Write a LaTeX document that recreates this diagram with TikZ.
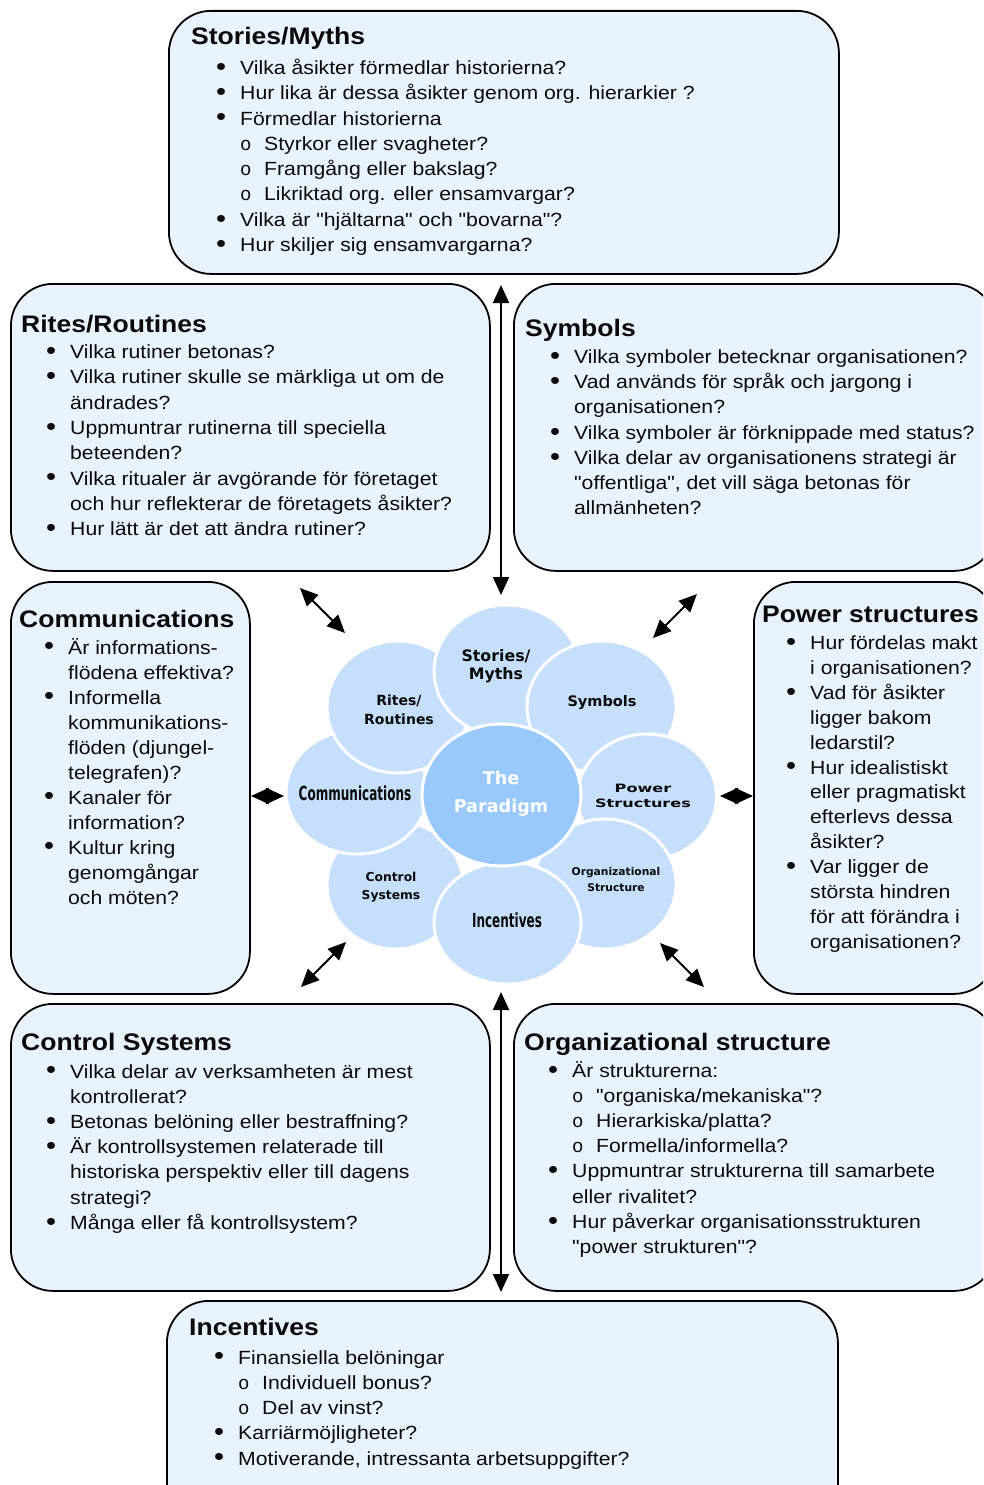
\documentclass[tikz,border=0pt]{standalone}
\usepackage{fontspec}
\usetikzlibrary{arrows.meta,shapes.geometric}

% fonts
\newfontfamily\boxfont{Liberation Sans}[FakeStretch=1.11,Ligatures=TeXOff]
\newfontfamily\ringfont{Liberation Mono}
\newfontfamily\petalfont{DejaVu Sans}
\newfontfamily\petalwide{DejaVu Sans}[FakeStretch=1.4]
\newfontfamily\petalnarrow{DejaVu Sans}[FakeStretch=0.62]

% colours
\definecolor{boxfill}{RGB}{232,243,254}
\definecolor{petalfill}{RGB}{198,224,251}
\definecolor{corefill}{RGB}{153,201,250}
\definecolor{ink}{RGB}{10,10,10}

% list lines: bullet item, continuation line, sub item
\newcommand\bigdot{\raisebox{-0.9pt}{\scalebox{1.35}{\textbullet}}}
\newcommand\smallring{{\ringfont\fontsize{19}{0}\selectfont o}}
\newcommand\bi[1]{\par\makebox[24pt][l]{\bigdot}#1}
\newcommand\bc[1]{\par\hspace*{24pt}#1}
\newcommand\si[1]{\par\hspace*{24pt}\makebox[24pt][l]{\smallring}#1}
\newcommand\itemlist[2]{\parbox[t]{720pt}{\boxfont\fontsize{19.1}{#1}\selectfont
  \lineskiplimit=-100pt\lineskip=0pt #2}}

\tikzset{
  infobox/.style={rectangle, draw=black, line width=1.8pt, fill=boxfill,
    rounded corners=42pt, anchor=north west, inner sep=0pt},
  boxtitle/.style={anchor=base west, inner sep=0pt, text=ink,
    font=\boxfont\bfseries\fontsize{23.9}{28}\selectfont},
  boxlist/.style={anchor=base west, inner sep=0pt, text=ink},
  petal/.style={ellipse, draw=white, line width=3pt, fill=petalfill, inner sep=0pt},
  core/.style={ellipse, draw=white, line width=3pt, fill=corefill, inner sep=0pt},
  petallabel/.style={align=center, inner sep=0pt, text=ink},
  link/.style={line width=2pt, draw=black,
    {Triangle[length=18pt,width=16pt]}-{Triangle[length=18pt,width=16pt]}},
}

\begin{document}
\begin{tikzpicture}[x=1pt,y=-1pt]
\useasboundingbox (0,0) rectangle (983,1485);
\clip (0,0) rectangle (983,1485);
\fill[white] (0,0) rectangle (983,1485);

% ---------- outer boxes ----------
\node[infobox, minimum width=670pt, minimum height=263pt] (storiesBox) at (168,10) {};
\node[infobox, minimum width=479pt, minimum height=287pt] (ritesBox) at (10,283) {};
\node[infobox, minimum width=482pt, minimum height=287pt] (symbolsBox) at (513,283) {};
\node[infobox, minimum width=239pt, minimum height=412pt] (commBox) at (10,581) {};
\node[infobox, minimum width=242pt, minimum height=412pt] (powerBox) at (753,581) {};
\node[infobox, minimum width=479pt, minimum height=287pt] (controlBox) at (10,1003) {};
\node[infobox, minimum width=482pt, minimum height=287pt] (orgBox) at (513,1003) {};
\node[infobox, minimum width=671pt, minimum height=240pt] (incBox) at (166,1300) {};

% ---------- box texts ----------
\node[boxtitle] (storiesTitle) at (191,45) {Stories/Myths};
\node[boxlist] (storiesList) at (216,74.5) {\itemlist{25.3pt}{%
\bi{Vilka åsikter förmedlar historierna?}
\bi{Hur lika är dessa åsikter genom org. hierarkier ?}
\bi{Förmedlar historierna}
\si{Styrkor eller svagheter?}
\si{Framgång eller bakslag?}
\si{Likriktad org. eller ensamvargar?}
\bi{Vilka är "hjältarna" och "bovarna"?}
\bi{Hur skiljer sig ensamvargarna?}}};

\node[boxtitle] (ritesTitle) at (21,332) {Rites/Routines};
\node[boxlist] (ritesList) at (46,358.5) {\itemlist{25.3pt}{%
\bi{Vilka rutiner betonas?}
\bi{Vilka rutiner skulle se märkliga ut om de}
\bc{ändrades?}
\bi{Uppmuntrar rutinerna till speciella}
\bc{beteenden?}
\bi{Vilka ritualer är avgörande för företaget}
\bc{och hur reflekterar de företagets åsikter?}
\bi{Hur lätt är det att ändra rutiner?}}};

\node[boxtitle] (symbolsTitle) at (525,336) {Symbols};
\node[boxlist] (symbolsList) at (550,363.5) {\itemlist{25.2pt}{%
\bi{Vilka symboler betecknar organisationen?}
\bi{Vad används för språk och jargong i}
\bc{organisationen?}
\bi{Vilka symboler är förknippade med status?}
\bi{Vilka delar av organisationens strategi är}
\bc{"offentliga", det vill säga betonas för}
\bc{allmänheten?}}};

\node[boxtitle] (commTitle) at (19,627) {Communications};
\node[boxlist] (commList) at (44,654) {\itemlist{25pt}{%
\bi{Är informations-}
\bc{flödena effektiva?}
\bi{Informella}
\bc{kommunikations-}
\bc{flöden (djungel-}
\bc{telegrafen)?}
\bi{Kanaler för}
\bc{information?}
\bi{Kultur kring}
\bc{genomgångar}
\bc{och möten?}}};

\node[boxtitle] (powerTitle) at (762,622) {Power structures};
\node[boxlist] (powerList) at (786,649.5) {\itemlist{24.9pt}{%
\bi{Hur fördelas makt}
\bc{i organisationen?}
\bi{Vad för åsikter}
\bc{ligger bakom}
\bc{ledarstil?}
\bi{Hur idealistiskt}
\bc{eller pragmatiskt}
\bc{efterlevs dessa}
\bc{åsikter?}
\bi{Var ligger de}
\bc{största hindren}
\bc{för att förändra i}
\bc{organisationen?}}};

\node[boxtitle] (controlTitle) at (21,1050) {Control Systems};
\node[boxlist] (controlList) at (46,1078) {\itemlist{25.2pt}{%
\bi{Vilka delar av verksamheten är mest}
\bc{kontrollerat?}
\bi{Betonas belöning eller bestraffning?}
\bi{Är kontrollsystemen relaterade till}
\bc{historiska perspektiv eller till dagens}
\bc{strategi?}
\bi{Många eller få kontrollsystem?}}};

\node[boxtitle] (orgTitle) at (524,1050) {Organizational structure};
\node[boxlist] (orgList) at (548,1077.5) {\itemlist{25.1pt}{%
\bi{Är strukturerna:}
\si{"organiska/mekaniska"?}
\si{Hierarkiska/platta?}
\si{Formella/informella?}
\bi{Uppmuntrar strukturerna till samarbete}
\bc{eller rivalitet?}
\bi{Hur påverkar organisationsstrukturen}
\bc{"power strukturen"?}}};

\node[boxtitle] (incTitle) at (189,1335) {Incentives};
\node[boxlist] (incList) at (214,1364) {\itemlist{25.25pt}{%
\bi{Finansiella belöningar}
\si{Individuell bonus?}
\si{Del av vinst?}
\bi{Karriärmöjligheter?}
\bi{Motiverande, intressanta arbetsuppgifter?}}};

% ---------- connector end points ----------
\coordinate (upTop) at (501,285);
\coordinate (upBot) at (501,595);
\coordinate (dnTop) at (501,992);
\coordinate (dnBot) at (501,1292);
\coordinate (nwOut) at (300,588);
\coordinate (nwIn) at (345,633);
\coordinate (neOut) at (697,594);
\coordinate (neIn) at (653,638);
\coordinate (swOut) at (301,987);
\coordinate (swIn) at (346,942);
\coordinate (seOut) at (704,987);
\coordinate (seIn) at (660,943);
\coordinate (wOut) at (251,796);
\coordinate (wIn) at (284,796);
\coordinate (eOut) at (753,796);
\coordinate (eIn) at (720,796);

\draw[link] (upTop) -- (upBot);
\draw[link] (dnTop) -- (dnBot);
\draw[link] (nwOut) -- (nwIn);
\draw[link] (neOut) -- (neIn);
\draw[link] (swOut) -- (swIn);
\draw[link] (seOut) -- (seIn);
\draw[link] (wOut) -- (wIn);
\draw[link] (eOut) -- (eIn);

% ---------- the paradigm flower ----------
\node[petal, minimum width=136pt, minimum height=128pt] (pControl) at (395,885) {};
\node[petal, minimum width=142pt, minimum height=124pt] (pComm) at (357,792) {};
\node[petal, minimum width=142pt, minimum height=132pt] (pRites) at (398,707) {};
\node[petal, minimum width=146pt, minimum height=132pt] (pStories) at (507,671) {};
\node[petal, minimum width=149pt, minimum height=132pt] (pSymbols) at (601.5,707) {};
\node[petal, minimum width=139pt, minimum height=126pt] (pPower) at (647,797) {};
\node[petal, minimum width=142pt, minimum height=130pt] (pOrg) at (605,884) {};
\node[petal, minimum width=147pt, minimum height=122pt] (pInc) at (507.5,923) {};
\node[core, minimum width=159pt, minimum height=142pt] (pCore) at (501.5,795) {};

\node[petallabel, font=\petalfont\bfseries\fontsize{15.8}{18}\selectfont]
  (lStories) at (496,666) {Stories/\\Myths};
\node[petallabel, font=\petalfont\bfseries\fontsize{14}{19}\selectfont]
  (lRites) at (399,709.5) {Rites/\\Routines};
\node[petallabel, font=\petalfont\bfseries\fontsize{14.5}{17}\selectfont]
  (lSymbols) at (602,703) {Symbols};
\node[petallabel, font=\petalwide\bfseries\fontsize{11.5}{15}\selectfont]
  (lPower) at (643,795.5) {Power\\Structures};
\node[petallabel, font=\petalfont\bfseries\fontsize{10.7}{15}\selectfont]
  (lOrg) at (616,879.5) {Organizational\\Structure};
\node[petallabel, font=\petalfont\bfseries\fontsize{12.3}{18}\selectfont]
  (lControl) at (391,887) {Control\\Systems};
\node[petallabel, font=\petalnarrow\bfseries\fontsize{19.4}{22}\selectfont]
  (lComm) at (355,793) {Communications};
\node[petallabel, font=\petalnarrow\bfseries\fontsize{19.4}{22}\selectfont]
  (lInc) at (507,920) {Incentives};
\node[petallabel, text=white, font=\petalfont\bfseries\fontsize{17.6}{28}\selectfont]
  (lCore) at (501,794) {The\\Paradigm};
\end{tikzpicture}
\end{document}
